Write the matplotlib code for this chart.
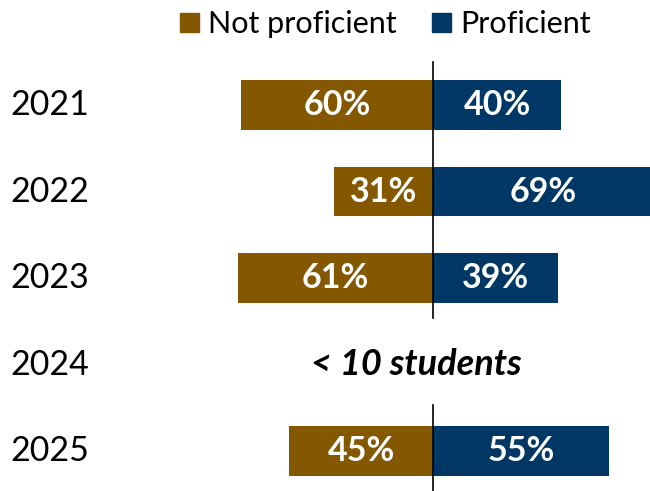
import matplotlib
matplotlib.use("Agg")
import matplotlib.pyplot as plt
from matplotlib.patches import Patch
from matplotlib.transforms import blended_transform_factory

years = ["2021", "2022", "2023", "2024", "2025"]
not_proficient = [60, 31, 61, None, 45]
proficient = [40, 69, 39, None, 55]
note_2024 = "< 10 students"
legend_labels = ["Not proficient", "Proficient"]

brown = "#845800"
navy = "#003764"
font = "Lato"

fig = plt.figure(figsize=(6.5, 4.91), dpi=100)
ax = fig.add_axes([0, 0, 1, 1])
ax.set_xlim(-433 / 3.2, (650 - 433) / 3.2)
ax.set_ylim((491 - 105) / 86.5, -105 / 86.5)
ax.axis("off")

h = 0.57
for i, (npf, pf) in enumerate(zip(not_proficient, proficient)):
    if npf is None:
        ax.text(-5.3, i, note_2024, ha="center", va="center", fontsize=26,
                fontweight="bold", fontstyle="italic", family=font, color="black")
        continue
    ax.barh(i, -npf, height=h, color=brown)
    ax.barh(i, pf, height=h, color=navy)
    ax.text(-npf / 2, i, f"{npf}%", ha="center", va="center", color="white",
            fontsize=24.5, fontweight="bold", family=font)
    ax.text(pf / 2, i, f"{pf}%", ha="center", va="center", color="white",
            fontsize=24.5, fontweight="bold", family=font)

ax.plot([0, 0], [-0.497, 2.46], color="black", lw=1.2)
ax.plot([0, 0], [3.47, 4.6], color="black", lw=1.2)

tr = blended_transform_factory(fig.transFigure, ax.transData)
for i, y in enumerate(years):
    ax.text(10 / 650, i, y, transform=tr, ha="left", va="center",
            fontsize=24.5, family=font, color="black")

handles = [Patch(color=brown), Patch(color=navy)]
fig.legend(handles, legend_labels, loc="upper center", ncol=2,
           bbox_to_anchor=(0.5925, 1.035), frameon=False,
           prop={"family": font, "size": 22}, handlelength=0.62,
           handleheight=0.62, handletextpad=0.3, columnspacing=1.15)

fig.savefig("out.png", dpi=100)
